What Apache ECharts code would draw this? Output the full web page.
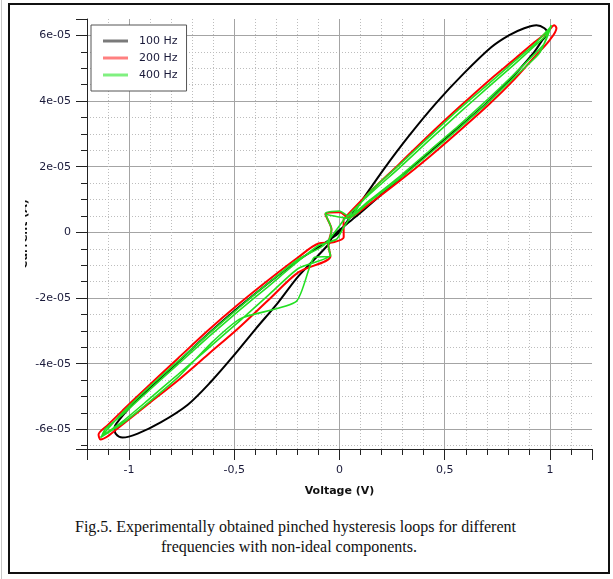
<!DOCTYPE html>
<html>
<head>
<meta charset="utf-8">
<script src="https://cdn.jsdelivr.net/npm/echarts@6/dist/echarts.min.js"></script>
<style>
  html, body { margin: 0; padding: 0; background: #fff; }
  body { width: 613px; height: 579px; position: relative; overflow: hidden; }
  #edge { position: absolute; left: 1px; top: 0; width: 1px; height: 579px; background: #c8c8c8; }
  #frame { position: absolute; left: 8px; top: 3px; width: 598px; height: 567px; border: 2px solid #111; }
  #chart { position: absolute; left: 25px; top: 0; width: 588px; height: 505px; }
  .cap { position: absolute; font-family: "Liberation Serif", "Times New Roman", serif; font-size: 16px; color: #111; white-space: nowrap; }
  #cap1 { left: 75px; top: 518px; }
  #cap2 { left: 161px; top: 538px; }
</style>
</head>
<body>
<div id="edge"></div>
<div id="frame"></div>
<div id="chart"></div>
<div class="cap" id="cap1">Fig.5. Experimentally obtained pinched hysteresis loops for different</div>
<div class="cap" id="cap2">frequencies with non-ideal components.</div>
<script>
// Series names
const seriesNames = ['100 Hz', '200 Hz', '400 Hz'];

// 100 Hz loop: voltage (V) and current (units of 1e-5 A), in drawing order
const volt100 = [0.000, 0.100, 0.210, 0.329, 0.458, 0.592, 0.721, 0.807, 0.878, 0.936, 0.974, 0.988,
  0.960, 0.926, 0.831, 0.711, 0.568, 0.425, 0.282, 0.186, 0.091, 0.020,
  -0.030, -0.053, -0.196, -0.291, -0.401, -0.506, -0.611, -0.721, -0.850, -0.959, -1.031, -1.064, -1.069,
  -1.045, -0.983, -0.912, -0.768, -0.625, -0.482, -0.339, -0.196, -0.100, -0.030, 0.000];
const curr100 = [0.00, 0.91, 1.92, 2.93, 3.93, 4.85, 5.64, 6.01, 6.22, 6.31, 6.22, 6.07,
  5.82, 5.50, 4.80, 4.00, 3.20, 2.42, 1.62, 1.08, 0.55, 0.18,
  -0.10, -0.37, -1.34, -2.13, -2.96, -3.78, -4.55, -5.25, -5.79, -6.13, -6.25, -6.13, -5.95,
  -5.70, -5.24, -4.80, -3.95, -3.10, -2.30, -1.55, -0.85, -0.45, -0.15, 0.00];

// 200 Hz loop
const volt200 = [0.019, 0.138, 0.282, 0.425, 0.568, 0.711, 0.831, 0.926, 0.988, 1.021, 1.031,
  0.998, 0.926, 0.831, 0.711, 0.568, 0.425, 0.282, 0.138, 0.043,
  0.000, -0.067, -0.038, -0.053, -0.043,
  -0.196, -0.339, -0.482, -0.625, -0.768, -0.912, -1.031, -1.103, -1.136, -1.145,
  -1.103, -1.031, -0.912, -0.768, -0.625, -0.482, -0.339, -0.196, -0.100,
  -0.030, 0.020, 0.019];
const curr200 = [0.40, 1.19, 2.07, 2.96, 3.81, 4.63, 5.27, 5.79, 6.10, 6.31, 6.22,
  5.85, 5.34, 4.66, 3.90, 3.08, 2.29, 1.55, 0.85, 0.45,
  0.61, 0.55, 0.09, -0.37, -0.73,
  -1.22, -2.07, -2.93, -3.72, -4.51, -5.24, -5.85, -6.22, -6.31, -6.16,
  -5.88, -5.43, -4.70, -3.84, -2.99, -2.20, -1.46, -0.76, -0.34,
  -0.30, -0.15, 0.40];

// 400 Hz trace: two successive cycles
const volt400 = [0.019, 0.138, 0.282, 0.425, 0.568, 0.711, 0.831, 0.926, 0.974, 1.007,
  0.974, 0.926, 0.831, 0.711, 0.568, 0.425, 0.282, 0.138, 0.043,
  0.000, -0.067, -0.038, -0.053, -0.043,
  -0.196, -0.339, -0.482, -0.625, -0.768, -0.912, -1.031, -1.131,
  -1.112, -1.031, -0.912, -0.768, -0.625, -0.482, -0.339, -0.196, -0.100, -0.014, 0.019,
  0.138, 0.282, 0.425, 0.568, 0.711, 0.831, 0.926, 1.002,
  0.950, 0.831, 0.711, 0.568, 0.425, 0.282, 0.138, 0.043,
  -0.067, -0.038, -0.053, -0.043,
  -0.119, -0.205, -0.468, -0.601,
  -0.768, -0.912, -1.031, -1.136,
  -1.031, -0.912, -0.768, -0.625, -0.482, -0.339, -0.196, -0.076, 0.019];
const curr400 = [0.37, 1.13, 1.95, 2.80, 3.63, 4.45, 5.12, 5.67, 5.95, 6.31,
  5.76, 5.43, 4.82, 4.09, 3.26, 2.47, 1.68, 0.95, 0.50,
  0.65, 0.58, 0.09, -0.40, -0.70,
  -1.10, -1.92, -2.74, -3.54, -4.33, -5.12, -5.76, -6.22,
  -5.98, -5.55, -4.85, -4.02, -3.20, -2.41, -1.65, -0.88, -0.40, -0.21, 0.15,
  1.19, 2.04, 2.90, 3.75, 4.54, 5.21, 5.73, 6.25,
  5.46, 4.73, 3.99, 3.17, 2.38, 1.62, 0.91, 0.43,
  0.55, 0.09, -0.40, -0.73,
  -0.76, -2.10, -2.62, -3.32,
  -4.42, -5.21, -5.82, -6.25,
  -5.49, -4.76, -3.93, -3.11, -2.32, -1.55, -0.82, -0.40, 0.37];

// Tick label values
const xTickValues = [-1, -0.5, 0, 0.5, 1];
const yTickValues = [-6, -4, -2, 0, 2, 4, 6];

const AMP_UNIT = 1e-5;
const pairs = (vs, cs) => vs.map((v, i) => [v, cs[i] * AMP_UNIT]);

const isTick = (list, v, eps) => list.some(t => Math.abs(t - v) < eps);
const xLabel = v => isTick(xTickValues, v, 1e-6) ? String(Math.round(v * 10) / 10).replace('.', ',') : '';
const yLabel = v => {
  const k = Math.round(v / AMP_UNIT * 1000) / 1000;
  if (!isTick(yTickValues, k, 1e-3)) return '';
  if (k === 0) return '0';
  return (k < 0 ? '-' : '') + Math.abs(k) + 'e-05';
};

const labelFont = { fontFamily: 'DejaVu Sans', fontSize: 11, color: '#1a1a3a' };
const majorGrid = { show: true, showMinLine: false, showMaxLine: false, lineStyle: { color: '#a4a4a4', width: 1, type: 'solid' } };
const minorGrid = { show: true, lineStyle: { color: '#bdbdbd', width: 1, type: [1, 2] } };

const chart = echarts.init(document.getElementById('chart'), null, { renderer: 'canvas' });
chart.setOption({
  animation: false,
  backgroundColor: 'transparent',
  grid: { left: 62, top: 19, width: 505, height: 430, containLabel: false, outerBoundsMode: 'none' },
  legend: {
    orient: 'vertical', left: 66, top: 25,
    padding: [9, 9, 9, 12],
    backgroundColor: '#fff', borderColor: '#555', borderWidth: 1,
    itemWidth: 25, itemHeight: 3, itemGap: 3,
    icon: 'rect',
    textStyle: { fontFamily: 'DejaVu Sans', fontSize: 11, color: '#1a1a3a', lineHeight: 14, padding: [0, 0, 0, 6] },
    data: [
      { name: seriesNames[0], itemStyle: { color: '#7a7a7a' } },
      { name: seriesNames[1], itemStyle: { color: '#ff8080' } },
      { name: seriesNames[2], itemStyle: { color: '#80f080' } }
    ]
  },
  xAxis: {
    type: 'value', min: -1.2, max: 1.2, splitNumber: 5, minInterval: 0.5, maxInterval: 0.5,
    name: 'Voltage (V)', nameLocation: 'middle', nameGap: 37, nameMoveOverlap: false,
    nameTextStyle: { fontFamily: 'DejaVu Sans', fontSize: 11, fontWeight: 'bold', color: '#111' },
    axisLine: { onZero: false, lineStyle: { color: '#222', width: 1 } },
    axisTick: { show: true, length: 11, lineStyle: { color: '#222' } },
    minorTick: { show: true, splitNumber: 5, length: 6, lineStyle: { color: '#222' } },
    axisLabel: Object.assign({ margin: 16, formatter: xLabel }, labelFont),
    splitLine: majorGrid,
    minorSplitLine: minorGrid
  },
  yAxis: {
    type: 'value', min: -6.6e-5, max: 6.5e-5, splitNumber: 6, minInterval: 2e-5, maxInterval: 2e-5,
    name: 'Current (A)', nameLocation: 'middle', nameRotate: 90, nameGap: 57, nameMoveOverlap: false,
    nameTextStyle: { fontFamily: 'DejaVu Sans', fontSize: 11, fontWeight: 'bold', color: '#111' },
    axisLine: { onZero: false, lineStyle: { color: '#222', width: 1 } },
    axisTick: { show: true, length: 11, lineStyle: { color: '#222' } },
    minorTick: { show: true, splitNumber: 4, length: 6, lineStyle: { color: '#222' } },
    axisLabel: Object.assign({ margin: 16, formatter: yLabel }, labelFont),
    splitLine: majorGrid,
    minorSplitLine: minorGrid
  },
  series: [
    { name: seriesNames[0], type: 'line', data: pairs(volt100, curr100), showSymbol: false, symbol: 'none',
      smooth: 0.3, lineStyle: { color: '#000', width: 2 }, itemStyle: { color: '#000' } },
    { name: seriesNames[1], type: 'line', data: pairs(volt200, curr200), showSymbol: false, symbol: 'none',
      smooth: 0.3, lineStyle: { color: '#ff0000', width: 2 }, itemStyle: { color: '#ff0000' } },
    { name: seriesNames[2], type: 'line', data: pairs(volt400, curr400), showSymbol: false, symbol: 'none',
      smooth: 0.2, lineStyle: { color: '#22e022', width: 1.6 }, itemStyle: { color: '#22e022' } }
  ]
});
</script>
</body>
</html>
